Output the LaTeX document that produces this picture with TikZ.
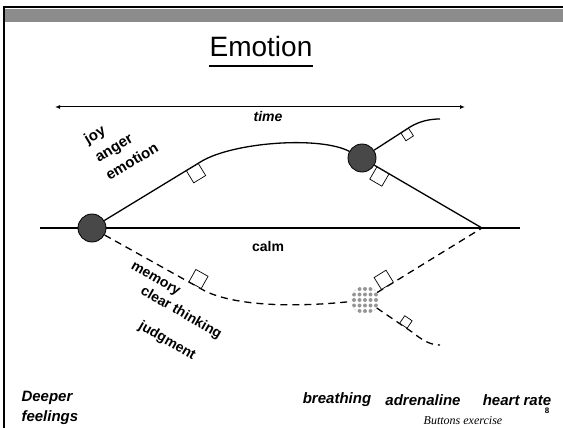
\documentclass[tikz,border=0pt]{standalone}
\usepackage{fontspec}
\setmainfont{Liberation Sans}
\newfontfamily\notefont{Liberation Serif}
\usetikzlibrary{arrows.meta,positioning,calc}
\definecolor{bargray}{RGB}{140,140,140}
\definecolor{knobgray}{RGB}{72,72,72}
\definecolor{dotgray}{RGB}{150,150,150}

\begin{document}
\begin{tikzpicture}[x=1pt,y=-1pt,
    lbl/.style={font=\bfseries\fontsize{15}{21}\selectfont},
    slbl/.style={font=\bfseries\fontsize{14}{16}\selectfont,rotate=-30},
    ilbl/.style={font=\bfseries\itshape\fontsize{15}{20}\selectfont},
    knob/.style={circle,draw,line width=0.8pt,fill=knobgray,minimum size=28pt,inner sep=0pt},
    btn/.style={draw,solid,fill=white,minimum size=14pt,inner sep=0pt,sloped,line width=0.7pt},
    minibtn/.style={btn,minimum size=9pt},
    track/.style={line width=1.3pt},
    dtrack/.style={line width=1.3pt,dash pattern=on 7pt off 5pt}]
  \useasboundingbox (0,0) rectangle (563,428);
  % Marco
  \fill[bargray] (5,9) rectangle (563,22);
  \draw[line width=2.5pt] (4,428) -- (4,7) -- (563,7);
  % Titulo
  \node[font=\fontsize{28}{32}\selectfont,inner sep=0pt] (title) at (261,46) {Emotion};
  \draw[line width=1.5pt] ([yshift=-10pt]title.base west) -- ([yshift=-10pt]title.base east);
  % Tiempo
  \coordinate (t0) at (55,107);
  \coordinate (t1) at (465,107);
  \draw[line width=1pt,{Latex[length=5pt,width=4pt]}-{Latex[length=5pt,width=4pt]}] (t0) -- (t1);
  \node[ilbl,font=\bfseries\itshape\fontsize{14}{16}\selectfont,anchor=north] (time) at (268,108) {time};
  % Calma
  \coordinate (c0) at (40,228);
  \coordinate (c1) at (520,228);
  \draw[track] (c0) -- (c1);
  \node[lbl,font=\bfseries\fontsize{14}{16}\selectfont] (calm) at (268,246) {calm};
  % Nodos
  \node[knob] (start) at (92,228) {};
  \node[knob] (peak) at (362,158) {};
  \coordinate (meet) at (482,228);
  \node[circle,minimum size=28pt,inner sep=0pt] (mix) at (365,300) {};
  \begin{scope}
    \clip (mix.center) circle (14);
    \foreach \i in {-2,...,2}
      \foreach \j in {-2,...,2}
        \fill[dotgray] ($(mix.center)+(\i*5.5,\j*5.5)$) circle (2);
  \end{scope}
  % Camino de arriba
  \coordinate (up1) at (202,161);
  \draw[track] (start) -- (up1) node[btn,pos=0.9,anchor=north] (k1) {}
    .. controls (235,142) and (320,136) .. (peak);
  \coordinate (up2) at (410,127);
  \coordinate (up3) at (440,119);
  \draw[track] (peak) -- (up2) node[minibtn,pos=0.85,anchor=north] (k2) {}
    .. controls (420,121) and (430,119) .. (up3);
  \draw[track] (peak) -- (meet) node[btn,pos=0.08,anchor=north] (k3) {};
  % Camino de abajo
  \coordinate (lo1) at (205,291);
  \draw[dtrack] (start) -- (lo1) node[btn,pos=0.9,anchor=south] (k4) {}
    .. controls (238,307) and (300,307) .. (mix);
  \draw[dtrack] (mix) -- (meet) node[btn,pos=0.1,anchor=south] (k5) {};
  \coordinate (lo2) at (412,332);
  \coordinate (lo3) at (440,345);
  \draw[dtrack] (mix) -- (lo2) node[minibtn,pos=0.75,anchor=south] (k6) {}
    .. controls (422,340) and (430,345) .. (lo3);
  % Etiquetas
  \node[lbl,rotate=31,align=left] (feel) at (121,143) {joy\\anger\\emotion};
  \node[slbl] (mem) at (155,280) {memory};
  \node[slbl] (clear) at (181,313) {clear thinking};
  \node[slbl] (judg) at (167,341) {judgment};
  \node[ilbl,align=left,anchor=west] (deep) at (18,408) {Deeper\\feelings};
  \node[ilbl] (breath) at (337,400) {breathing};
  \node[ilbl] (adren) at (423,400) {adrenaline};
  \node[ilbl] (heart) at (517,400) {heart rate};
  \node[font=\notefont\itshape\fontsize{12}{14}\selectfont] (note) at (463,421) {Buttons exercise};
  \node[font=\bfseries\fontsize{8}{9}\selectfont] (pagenum) at (547,411) {8};
\end{tikzpicture}
\end{document}
